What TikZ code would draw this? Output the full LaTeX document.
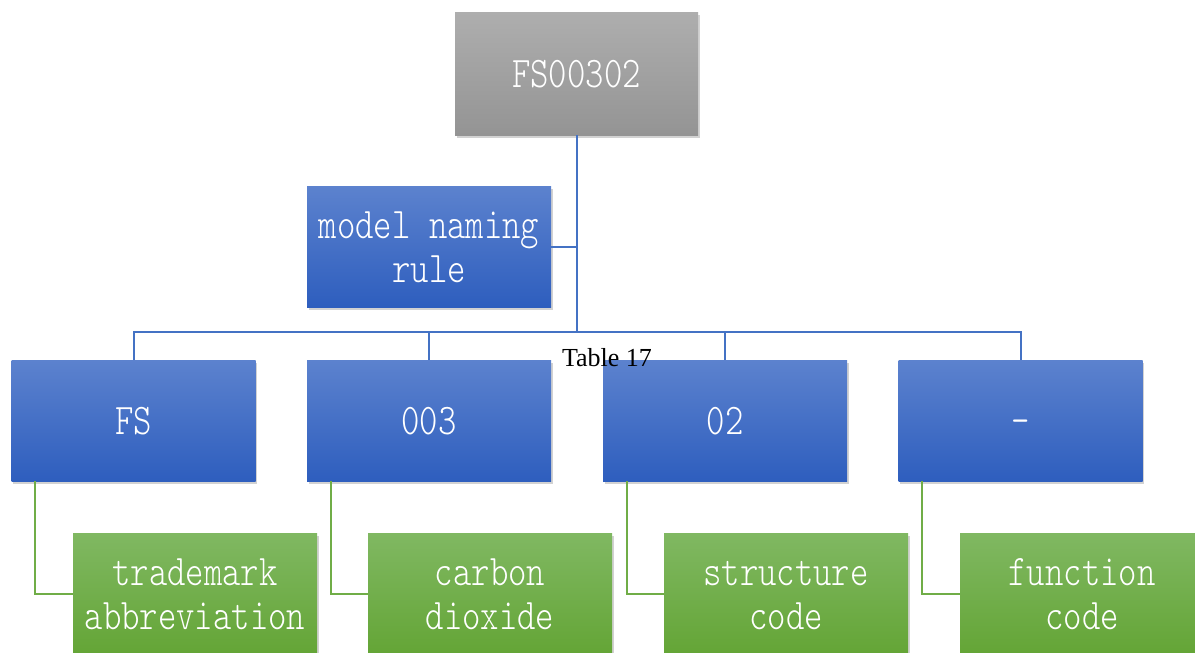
\documentclass[tikz,border=0pt]{standalone}
\usepackage{fontspec}
\usepackage{graphicx}
\usepackage{tikz}
\usetikzlibrary{shadows}
\setmainfont{Liberation Serif}
\newfontfamily\boxfont{Latin Modern Mono Light}
\definecolor{linkblue}{RGB}{68,114,196}
\definecolor{linkgreen}{RGB}{112,173,71}
\definecolor{greytop}{RGB}{174,174,174}
\definecolor{greybot}{RGB}{148,148,148}
\definecolor{bluetop}{RGB}{92,130,206}
\definecolor{bluebot}{RGB}{46,94,190}
\definecolor{greentop}{RGB}{128,184,98}
\definecolor{greenbot}{RGB}{100,165,54}
\newcommand{\boxtext}[1]{\raisebox{-5pt}[\height][\depth]{\scalebox{1}[1.25]{\begin{tabular}{@{}c@{}}#1\end{tabular}}}}

\begin{document}
\begin{tikzpicture}[x=1pt,y=-1pt]

%
% Styles
%
\tikzstyle{card}   = [rectangle,inner sep=0pt,minimum width=244pt,minimum height=121pt,
                      text=white,font=\boxfont\fontsize{35}{35}\selectfont,
                      drop shadow={shadow xshift=1.5pt,shadow yshift=-3pt,opacity=0.35}]
\tikzstyle{rootbox}  = [card,minimum width=243pt,minimum height=123pt,top color=greytop,bottom color=greybot]
\tikzstyle{bluebox}  = [card,top color=bluetop,bottom color=bluebot]
\tikzstyle{greenbox} = [card,top color=greentop,bottom color=greenbot]
\tikzstyle{bluelink}  = [draw=linkblue,line width=2pt]
\tikzstyle{greenlink} = [draw=linkgreen,line width=2pt]

\clip (0,0) rectangle (1195,653);
\fill[white] (0,0) rectangle (1195,653);

\node[rootbox]  (root) at (576.5, 73.5) {\boxtext{FS00302}};
\node[bluebox]  (rule) at (429, 246.5)  {\boxtext{model naming\\rule}};

\node[bluebox]  (fs)   at (133.5, 420.5) {\boxtext{FS}};
\node[bluebox]  (num)  at (429, 420.5)   {\boxtext{003}};
\node[bluebox]  (code) at (725, 420.5)   {\boxtext{02}};
\node[bluebox]  (dash) at (1020.5, 420.5) {\boxtext{-}};

\node[greenbox] (trade) at (195, 593.5)  {\boxtext{trademark\\abbreviation}};
\node[greenbox] (co)    at (490, 593.5)  {\boxtext{carbon\\dioxide}};
\node[greenbox] (struc) at (786, 593.5)  {\boxtext{structure\\code}};
\node[greenbox] (func)  at (1082, 593.5) {\boxtext{function\\code}};

\coordinate (bus) at (576.5, 332);

\draw[bluelink] (root.south) -- (bus);
\draw[bluelink] (root.south) |- (rule.east);
\draw[bluelink] (bus) -| (fs.north);
\draw[bluelink] (bus) -| (num.north);
\draw[bluelink] (bus) -| (code.north);
\draw[bluelink] (bus) -| (dash.north);

\draw[greenlink] ([xshift=24pt]fs.south west)   |- (trade.west);
\draw[greenlink] ([xshift=24pt]num.south west)  |- (co.west);
\draw[greenlink] ([xshift=24pt]code.south west) |- (struc.west);
\draw[greenlink] ([xshift=24pt]dash.south west) |- (func.west);

\node[font=\fontsize{26}{30}\selectfont] (caption) at (607, 358) {Table 17};

\end{tikzpicture}
\end{document}
